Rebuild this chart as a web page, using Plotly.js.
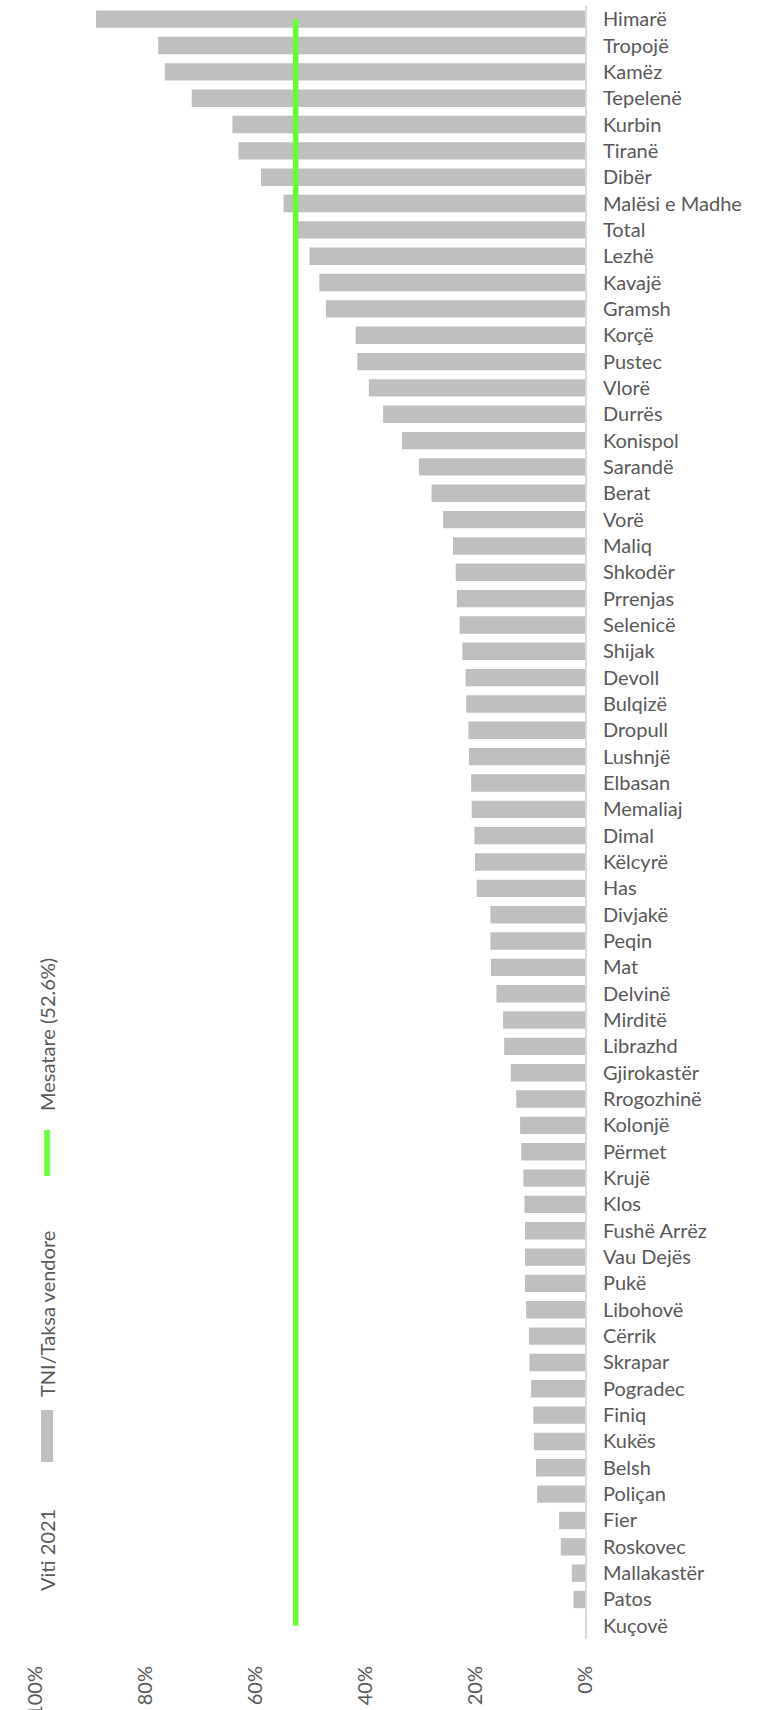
<!DOCTYPE html>
<html>
<head>
<meta charset="utf-8">
<script src="https://cdn.plot.ly/plotly-3.0.1.min.js"></script>
<style>html,body{margin:0;padding:0;background:#fff;}#chart{width:764px;height:1710px;}</style>
</head>
<body>
<div id="chart"></div>
<script>
const categories = ['Himarë','Tropojë','Kamëz','Tepelenë','Kurbin','Tiranë','Dibër','Malësi e Madhe','Total','Lezhë','Kavajë','Gramsh','Korçë','Pustec','Vlorë','Durrës','Konispol','Sarandë','Berat','Vorë','Maliq','Shkodër','Prrenjas','Selenicë','Shijak','Devoll','Bulqizë','Dropull','Lushnjë','Elbasan','Memaliaj','Dimal','Këlcyrë','Has','Divjakë','Peqin','Mat','Delvinë','Mirditë','Librazhd','Gjirokastër','Rrogozhinë','Kolonjë','Përmet','Krujë','Klos','Fushë Arrëz','Vau Dejës','Pukë','Libohovë','Cërrik','Skrapar','Pogradec','Finiq','Kukës','Belsh','Poliçan','Fier','Roskovec','Mallakastër','Patos','Kuçovë'];

const tniShare = [0.889,0.776,0.764,0.715,0.641,0.630,0.589,0.548,0.523,0.501,0.483,0.471,0.417,0.414,0.393,0.367,0.333,0.302,0.279,0.258,0.240,0.235,0.233,0.228,0.223,0.217,0.216,0.212,0.211,0.207,0.206,0.201,0.200,0.197,0.172,0.172,0.171,0.161,0.149,0.147,0.135,0.125,0.118,0.116,0.112,0.110,0.109,0.109,0.109,0.107,0.102,0.101,0.098,0.094,0.093,0.089,0.087,0.047,0.044,0.024,0.021,0];

const averageValue = 0.526;

const tickValues = [0, 0.2, 0.4, 0.6, 0.8, 1];
const tickLabels = ['0%', '20%', '40%', '60%', '80%', '100%'];

const legendTitle = 'Viti 2021';
const barName = 'TNI/Taksa vendore';
const lineName = 'Mesatare (52.6%)';

const W = 764, H = 1710;
const M = {l: 35, r: 179, t: 6, b: 71};
const pw = W - M.l - M.r, ph = H - M.t - M.b;
const px2x = p => (p - M.l) / pw;
const px2y = p => (H - M.b - p) / ph;

const textColor = '#595959';
const fontFam = 'Lato, "Open Sans", sans-serif';
const green = '#66FF33';
const grey = '#BFBFBF';

const traces = [
  {
    type: 'bar',
    orientation: 'h',
    name: barName,
    x: tniShare,
    y: categories,
    marker: {color: grey, line: {width: 0}},
    hoverinfo: 'x+y'
  },
  {
    type: 'scatter',
    mode: 'lines',
    name: lineName,
    x: categories.map(() => averageValue),
    y: categories,
    line: {color: green, width: 5.5},
    hoverinfo: 'x'
  }
];

const legendX = 47;
const layout = {
  width: W,
  height: H,
  margin: M,
  paper_bgcolor: '#ffffff',
  plot_bgcolor: '#ffffff',
  showlegend: false,
  bargap: 0.34,
  font: {family: fontFam, color: textColor},
  xaxis: {
    range: [1, 0],
    tickvals: tickValues,
    ticktext: tickLabels,
    tickangle: -90,
    ticks: 'outside',
    ticklen: 18,
    tickcolor: 'rgba(0,0,0,0)',
    showgrid: false,
    zeroline: false,
    showline: false,
    tickfont: {family: fontFam, size: 20, color: textColor},
    fixedrange: true
  },
  yaxis: {
    type: 'category',
    categoryorder: 'array',
    categoryarray: categories,
    range: [categories.length - 0.5, -0.5],
    side: 'right',
    showgrid: false,
    zeroline: false,
    showline: true,
    linecolor: '#D9D9D9',
    linewidth: 2,
    ticks: 'outside',
    ticklen: 12,
    tickcolor: 'rgba(0,0,0,0)',
    tickfont: {family: fontFam, size: 20, color: textColor},
    fixedrange: true
  },
  shapes: [
    {type: 'line', xref: 'paper', yref: 'paper',
     x0: px2x(legendX), x1: px2x(legendX), y0: px2y(1130), y1: px2y(1176),
     line: {color: green, width: 5.5}},
    {type: 'rect', xref: 'paper', yref: 'paper',
     x0: px2x(41), x1: px2x(53), y0: px2y(1410), y1: px2y(1462),
     fillcolor: grey, line: {width: 0}}
  ],
  annotations: [
    {text: lineName, xref: 'paper', yref: 'paper', x: px2x(legendX), y: px2y(1035),
     xanchor: 'center', yanchor: 'middle', textangle: -90, showarrow: false,
     font: {family: fontFam, size: 20, color: textColor}},
    {text: barName, xref: 'paper', yref: 'paper', x: px2x(legendX), y: px2y(1314),
     xanchor: 'center', yanchor: 'middle', textangle: -90, showarrow: false,
     font: {family: fontFam, size: 20, color: textColor}},
    {text: legendTitle, xref: 'paper', yref: 'paper', x: px2x(legendX), y: px2y(1550),
     xanchor: 'center', yanchor: 'middle', textangle: -90, showarrow: false,
     font: {family: fontFam, size: 20, color: textColor}}
  ]
};

Plotly.newPlot('chart', traces, layout, {displayModeBar: false, staticPlot: true});
</script>
</body>
</html>
